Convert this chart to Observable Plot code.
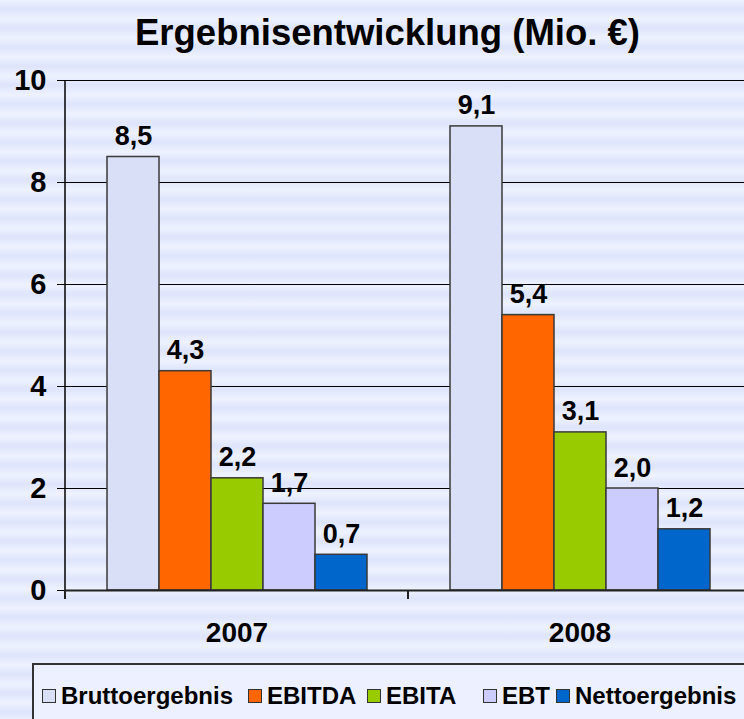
<!DOCTYPE html>
<html>
<head>
<meta charset="utf-8">
<script src="https://cdn.jsdelivr.net/npm/d3@7"></script>
<script src="https://cdn.jsdelivr.net/npm/@observablehq/plot@0.6"></script>
<style>
  body { margin: 0; }
  #wrap {
    position: relative; width: 744px; height: 719px; overflow: hidden;
    background: repeating-linear-gradient(to bottom, #EEF2FF 0px, #DEE4FB 9px, #EEF2FF 19px);
    font-family: "Liberation Sans", Arial, sans-serif; font-weight: bold; color: #000;
  }
  #chart { position: absolute; left: 0; top: 0; }
  #title { position: absolute; left: 0; width: 775px; top: 15px; text-align: center; font-size: 36.5px; line-height: 1; }
  #legend {
    position: absolute; left: 32px; top: 663px; width: 720px; height: 70px;
    border: 2px solid #333; background: #ECF0FF; box-sizing: border-box;
  }
  .item { position: absolute; top: 19px; display: flex; align-items: center; font-size: 24px; line-height: 1; white-space: nowrap; }
  .sw { width: 12px; height: 12px; border: 1.5px solid #333; margin-right: 5px; }
</style>
</head>
<body>
<div id="wrap">
  <div id="chart"></div>
  <div id="title">Ergebnisentwicklung (Mio. €)</div>
  <div id="legend"></div>
</div>
<script>
const years = ["2007", "2008"];
const series = ["Bruttoergebnis", "EBITDA", "EBITA", "EBT", "Nettoergebnis"];
const values2007 = [8.5, 4.3, 2.2, 1.7, 0.7];
const values2008 = [9.1, 5.4, 3.1, 2.0, 1.2];
const colors = ["#D9DFF7", "#FF6600", "#99CC00", "#CCCCFF", "#0066CC"];
const yTicks = [0, 2, 4, 6, 8, 10];
const legendLefts = [8, 214, 333, 449, 522];

const valuesByYear = { "2007": values2007, "2008": values2008 };
const data = years.flatMap(year => series.map((s, i) => ({ year, series: s, value: valuesByYear[year][i] })));
const fmt = v => v.toFixed(1).replace(".", ",");

const chart = Plot.plot({
  width: 744,
  height: 719,
  marginTop: 80,
  marginBottom: 129,
  marginLeft: 65,
  marginRight: -7,
  style: { fontFamily: "'Liberation Sans', Arial, sans-serif", background: "transparent", overflow: "hidden" },
  fx: { domain: years, padding: 0, label: null, axis: null },
  x: { domain: series, paddingInner: 0, paddingOuter: 0.76, axis: null },
  y: { domain: [0, 10], label: null },
  color: { domain: series, range: colors },
  marks: [
    Plot.gridY(yTicks.filter(t => t > 0), { stroke: "#000", strokeOpacity: 1, strokeWidth: 1 }),
    Plot.barY(data, { fx: "year", x: "series", y: "value", fill: "series", stroke: "#3a3a3a", strokeWidth: 1.5 }),
    Plot.text(data, { fx: "year", x: "series", y: "value", text: d => fmt(d.value), lineAnchor: "bottom", dy: -12, fontSize: 27, fontWeight: "bold", fill: "#000" }),
    Plot.ruleY([0], { stroke: "#222", strokeWidth: 2 }),
    Plot.axisY({ ticks: yTicks, tickFormat: d => String(d), tickSize: 8, tickPadding: 11, fontSize: 29, fontWeight: "bold", stroke: "#000", label: null }),
    Plot.axisFx({ anchor: "bottom", tickSize: 0, tickPadding: 32, fontSize: 28, fontWeight: "bold", label: null })
  ]
});
document.getElementById("chart").appendChild(chart);

// y-axis line and category boundary ticks, placed through the plot's own scales
const fxS = chart.scale("fx");
const yS = chart.scale("y");
const svg = d3.select(chart);
const y0 = yS.apply(0), y10 = yS.apply(10);
const bounds = years.map(y => fxS.apply(y)).concat([fxS.apply(years[years.length - 1]) + fxS.bandwidth]);
svg.append("line").attr("x1", bounds[0]).attr("x2", bounds[0]).attr("y1", y10).attr("y2", y0)
  .attr("stroke", "#000").attr("stroke-width", 1.5);
bounds.forEach(bx => {
  svg.append("line").attr("x1", bx).attr("x2", bx).attr("y1", y0).attr("y2", y0 + 9)
    .attr("stroke", "#222").attr("stroke-width", 2);
});

// legend
const legend = document.getElementById("legend");
series.forEach((s, i) => {
  const it = document.createElement("div");
  it.className = "item";
  it.style.left = legendLefts[i] + "px";
  const sw = document.createElement("span");
  sw.className = "sw";
  sw.style.background = colors[i];
  it.appendChild(sw);
  it.appendChild(document.createTextNode(s));
  legend.appendChild(it);
});
</script>
</body>
</html>
